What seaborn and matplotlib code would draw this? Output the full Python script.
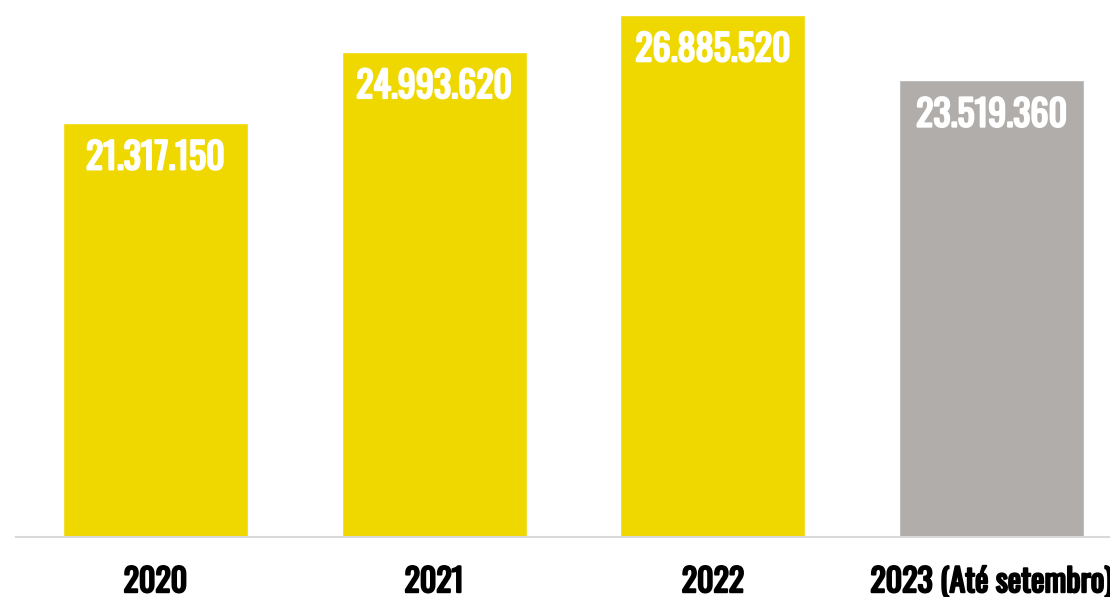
import matplotlib
matplotlib.use("Agg")
import matplotlib.pyplot as plt
import matplotlib.patheffects as pe
import seaborn as sns
import pandas as pd

# Valores anuais
anos = ["2020", "2021", "2022", "2023 (Até setembro)"]
valores = [21317150, 24993620, 26885520, 23519360]
rotulos = ["21.317.150", "24.993.620", "26.885.520", "23.519.360"]
cores = ["#EFD800", "#EFD800", "#EFD800", "#B0ADAB"]

sns.set_theme(style="white")
plt.rcParams["font.family"] = ["Oswald", "Fjalla One", "DejaVu Sans"]

df = pd.DataFrame({"ano": anos, "valor": valores})

fig = plt.figure(figsize=(11.10, 5.97), dpi=100)
# axes extends past the right edge of the figure
ax = fig.add_axes([16 / 1110, 60 / 597, 1115 / 1110, 537 / 597])

sns.barplot(data=df, x="ano", y="valor", hue="ano", palette=cores,
            legend=False, width=0.664, saturation=1, ax=ax)

ax.set_xlim(-0.5, 3.5)
ax.set_ylim(0, 27.65e6)

# heavier strokes for the condensed face
negrito_branco = [pe.withStroke(linewidth=1.5, foreground="white")]
negrito_preto = [pe.withStroke(linewidth=1.5, foreground="black")]

for i, (v, r) in enumerate(zip(valores, rotulos)):
    ax.annotate(r, xy=(i, v), xytext=(0, -25.5), textcoords="offset points",
                ha="center", va="center", color="white", fontsize=26,
                path_effects=negrito_branco)

ax.set_xlabel("")
ax.set_ylabel("")
ax.set_yticks([])
ax.tick_params(axis="x", length=0, pad=21, labelsize=23)
for t in ax.get_xticklabels():
    t.set_color("black")
    t.set_path_effects(negrito_preto)

for s in ["top", "right", "left"]:
    ax.spines[s].set_visible(False)
ax.spines["bottom"].set_color("#D9D9D9")
ax.spines["bottom"].set_linewidth(1.5)

fig.savefig("out.png", dpi=100)
